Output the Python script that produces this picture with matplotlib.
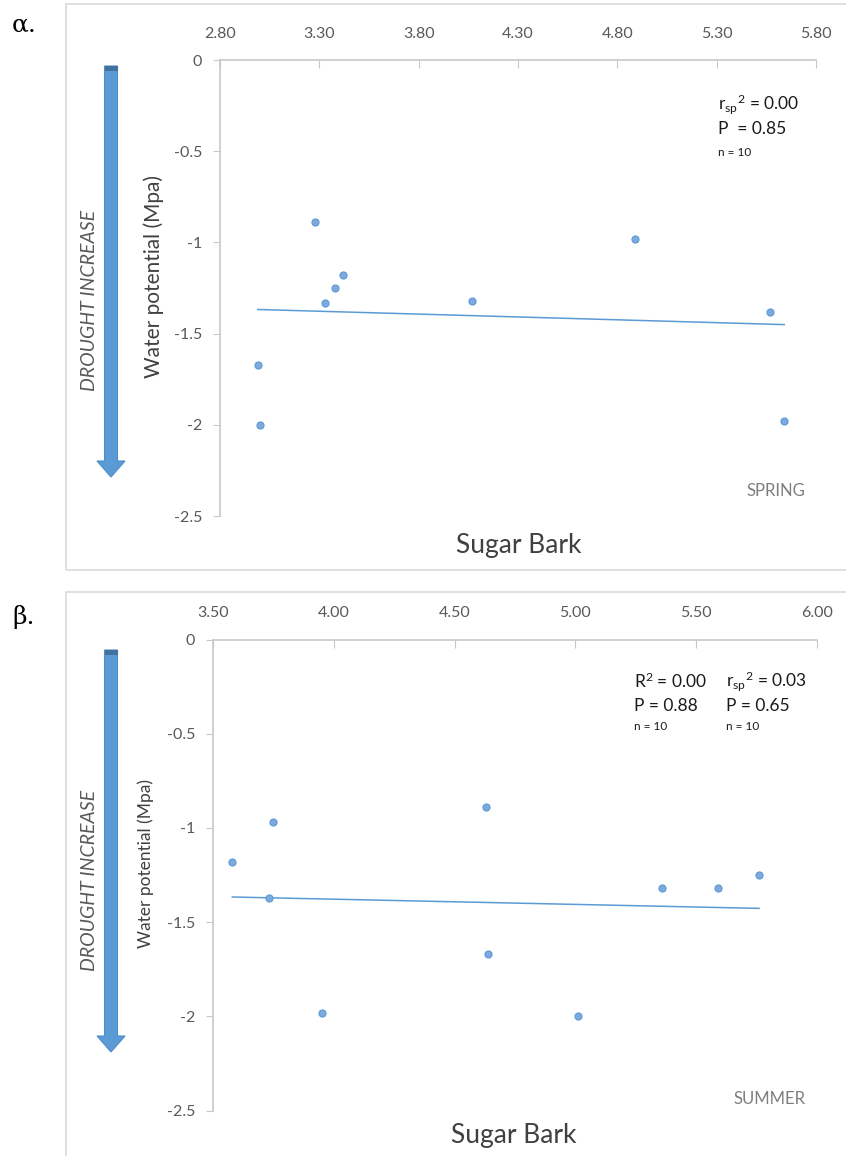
"""Water potential vs Sugar Bark, spring and summer panels"""
import matplotlib
matplotlib.use('Agg')
import matplotlib.pyplot as plt
from matplotlib.patches import Polygon, Rectangle
import numpy as np

plt.rcParams['font.family'] = ['Lato', 'DejaVu Sans']
plt.rcParams['mathtext.fontset'] = 'custom'
plt.rcParams['mathtext.rm'] = 'Lato'

W, H = 846, 1156

# spring
spring_x = [2.99, 3.00, 3.28, 3.33, 3.38, 3.42, 4.07, 4.89, 5.57, 5.64]
spring_y = [-1.67, -2.00, -0.89, -1.33, -1.25, -1.18, -1.32, -0.98, -1.38, -1.98]
spring_xticks = [2.80, 3.30, 3.80, 4.30, 4.80, 5.30, 5.80]

# summer
summer_x = [3.58, 3.75, 3.73, 3.95, 4.63, 4.64, 5.01, 5.36, 5.59, 5.76]
summer_y = [-1.18, -0.97, -1.37, -1.98, -0.89, -1.67, -2.00, -1.32, -1.32, -1.25]
summer_xticks = [3.50, 4.00, 4.50, 5.00, 5.50, 6.00]

yticks = [0, -0.5, -1, -1.5, -2, -2.5]
ytick_labels = ['0', '-0.5', '-1', '-1.5', '-2', '-2.5']

TICK_C = '#595959'
SPINE_C = '#c8c8c8'
PT_C = '#5b9bd5'

fig = plt.figure(figsize=(W / 100, H / 100), dpi=100)


def fx(px):
    return px / W


def fy(py):
    return 1 - py / H


def panel(x, y, xticks, box, top, ylab_size, ylab_x, label_y, arrow, greek):
    l, r, t, b = box
    ax = fig.add_axes([fx(l), fy(b), fx(r) - fx(l), fy(t) - fy(b)])
    ax.set_xlim(xticks[0], xticks[-1])
    ax.set_ylim(-2.5, 0)
    ax.xaxis.tick_top()
    ax.set_xticks(xticks)
    ax.set_xticklabels(['%.2f' % v for v in xticks])
    ax.set_yticks(yticks)
    ax.set_yticklabels(ytick_labels)
    ax.tick_params(axis='x', direction='in', length=6, color=SPINE_C,
                   labelcolor=TICK_C, labelsize=11.5, pad=14)
    ax.tick_params(axis='y', direction='out', length=5, color=SPINE_C,
                   labelcolor=TICK_C, labelsize=11.5, pad=8)
    for s in ['right', 'bottom']:
        ax.spines[s].set_visible(False)
    for s in ['top', 'left']:
        ax.spines[s].set_color(SPINE_C)
        ax.spines[s].set_linewidth(1.2)

    ax.scatter(x, y, s=26, color='#7fa9de', edgecolor=PT_C, linewidth=0.8,
               zorder=3, clip_on=False)
    k, c = np.polyfit(x, y, 1)
    xs = np.array([min(x), max(x)])
    ax.plot(xs, k * xs + c, color=PT_C, lw=1.1, zorder=2)

    # panel frame
    fig.add_artist(Rectangle((fx(66), fy(top[1])), fx(W + 5) - fx(66),
                             fy(top[0]) - fy(top[1]), transform=fig.transFigure,
                             fill=False, edgecolor='#d9d9d9', lw=1.2))

    fig.text(fx(ylab_x), fy((t + b) / 2 - 12), 'Water potential (Mpa)',
             rotation=90, ha='center', va='center', fontsize=ylab_size,
             color='#404040')
    fig.text(fx(89), fy(label_y), 'DROUGHT INCREASE', rotation=90,
             ha='center', va='center', fontsize=14, style='italic',
             color='#595959')

    # arrow
    a_top, a_tip = arrow
    cx = 111
    head = a_tip - 16
    pts = [(cx - 6.5, a_top), (cx + 6.5, a_top), (cx + 6.5, head),
           (cx + 14, head), (cx, a_tip), (cx - 14, head), (cx - 6.5, head)]
    fig.add_artist(Polygon([(fx(px), fy(py)) for px, py in pts], closed=True,
                           transform=fig.transFigure, facecolor='#5b9bd5',
                           edgecolor='#4f8ccb', lw=0.8))
    fig.add_artist(Rectangle((fx(cx - 6.5), fy(a_top + 5)), fx(13), fy(0) - fy(5),
                             transform=fig.transFigure, facecolor='#41719c',
                             edgecolor='none'))

    fig.text(fx(12), fy(greek), greek_txt[greek], fontsize=18,
             family='DejaVu Serif', va='center', ha='left', color='black')
    return ax


greek_txt = {25: 'α.', 617: 'β.'}

ax1 = panel(spring_x, spring_y, spring_xticks, (220, 816, 60, 516), (4, 570),
            15, 154, 300, (66, 477), 25)
ax2 = panel(summer_x, summer_y, summer_xticks, (213, 817, 639.5, 1110.5),
            (592, H + 5), 12.5, 146, 880, (650, 1052), 617)

# spring annotations
fig.text(fx(718), fy(104), r'$\mathregular{r_{sp}{}^{2}}$ = 0.00', fontsize=12.5,
         va='center', ha='left', color='#1a1a1a')
fig.text(fx(718), fy(129), 'P  = 0.85', fontsize=12.5, va='center', ha='left',
         color='#1a1a1a')
fig.text(fx(718), fy(152), 'n = 10', fontsize=8.5, va='center', ha='left',
         color='#1a1a1a')
fig.text(fx(805), fy(491), 'SPRING', fontsize=12, va='center', ha='right',
         color='#7f7f7f')
fig.text(fx(519), fy(545), 'Sugar Bark', fontsize=19, va='center', ha='center',
         color='#404040')

# summer annotations
fig.text(fx(634), fy(681), r'$\mathregular{R^{2}}$ = 0.00', fontsize=12.5,
         va='center', ha='left', color='#1a1a1a')
fig.text(fx(634), fy(706), 'P = 0.88', fontsize=12.5, va='center', ha='left',
         color='#1a1a1a')
fig.text(fx(634), fy(727), 'n = 10', fontsize=8.5, va='center', ha='left',
         color='#1a1a1a')
fig.text(fx(726), fy(681), r'$\mathregular{r_{sp}{}^{2}}$ = 0.03', fontsize=12.5,
         va='center', ha='left', color='#1a1a1a')
fig.text(fx(726), fy(706), 'P = 0.65', fontsize=12.5, va='center', ha='left',
         color='#1a1a1a')
fig.text(fx(726), fy(727), 'n = 10', fontsize=8.5, va='center', ha='left',
         color='#1a1a1a')
fig.text(fx(805), fy(1099), 'SUMMER', fontsize=12, va='center', ha='right',
         color='#7f7f7f')
fig.text(fx(514), fy(1135), 'Sugar Bark', fontsize=19, va='center', ha='center',
         color='#404040')

plt.savefig('out.png', dpi=100)
plt.close()
